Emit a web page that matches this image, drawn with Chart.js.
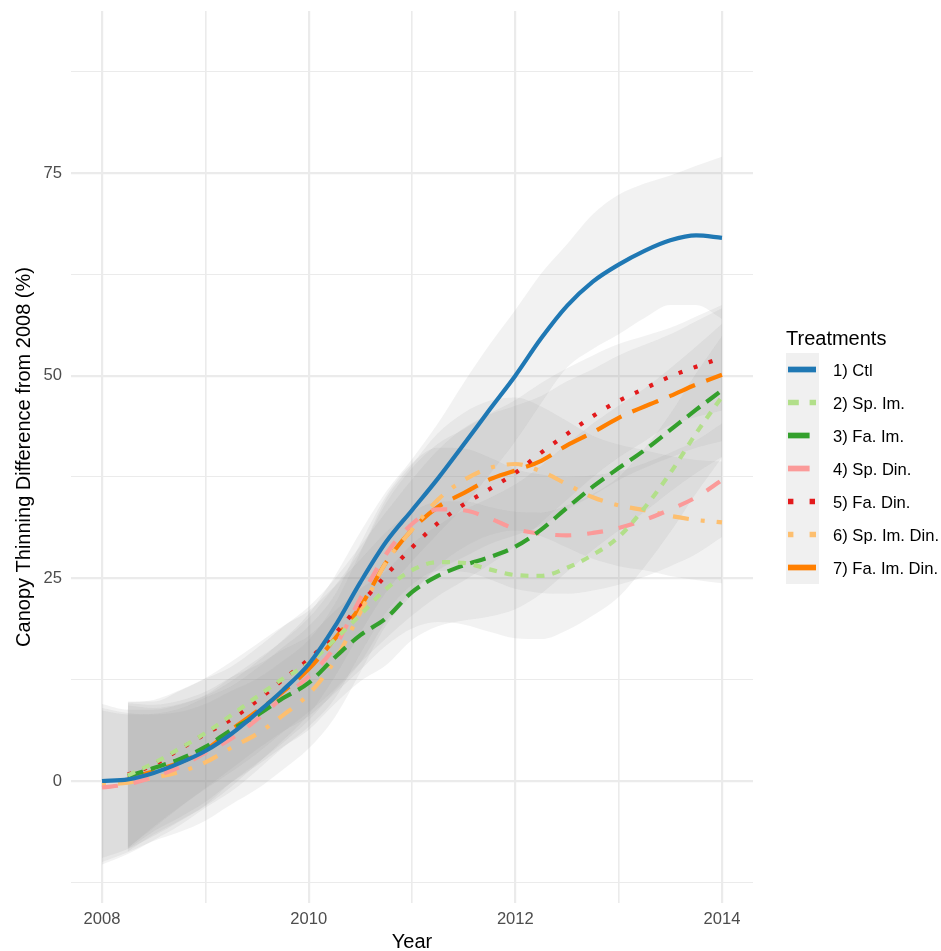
<!DOCTYPE html>
<html>
<head>
<meta charset="utf-8">
<script src="https://cdn.jsdelivr.net/npm/chart.js@4.4.1/dist/chart.umd.min.js"></script>
<style>
  html, body { margin: 0; padding: 0; background: #fff; }
  #wrap { position: relative; width: 941px; height: 951px; overflow: hidden; }
  #legend { position: absolute; left: 0; top: 0; font-family: "Liberation Sans", Arial, Helvetica, sans-serif; color: #000; }
  #legend .ltitle { position: absolute; left: 786px; top: 328px; font-size: 20px; line-height: 20px; white-space: nowrap; }
  #legend .lab { position: absolute; left: 833px; font-size: 16.6px; line-height: 20px; white-space: nowrap; }
  #legend svg { position: absolute; left: 786px; top: 353px; }
</style>
</head>
<body>
<div id="wrap">
  <canvas id="myChart" width="941" height="951"></canvas>
  <div id="legend"></div>
</div>
<script>
// x positions of the smoothed curves (every quarter year)
const years = [2008, 2008.25, 2008.5, 2008.75, 2009, 2009.25, 2009.5, 2009.75, 2010, 2010.25, 2010.5, 2010.75,
  2011, 2011.25, 2011.5, 2011.75, 2012, 2012.25, 2012.5, 2012.75, 2013, 2013.25, 2013.5, 2013.75, 2014];
const xTicks = [2008, 2009, 2010, 2011, 2012, 2013, 2014];
const yTicks = [-12.5, 0, 12.5, 25, 37.5, 50, 62.5, 75, 87.5];
const treatments = ["1) Ctl", "2) Sp. Im.", "3) Fa. Im.", "4) Sp. Din.", "5) Fa. Din.", "6) Sp. Im. Din.", "7) Fa. Im. Din."];

// smoothed means, canopy thinning difference from 2008 (%); null = no curve yet
const ctl = [0, 0.2, 1.0, 2.2, 3.7, 5.8, 8.4, 11.2, 14.4, 19.0, 24.5, 29.5, 33.4, 37.3, 41.5, 45.8, 50.0, 54.6, 58.6, 61.6, 63.7, 65.4, 66.7, 67.3, 67.0];
const spIm = [null, 0.7, 2.2, 4.0, 5.9, 8.1, 10.4, 12.6, 14.5, 17.4, 20.5, 23.7, 26.0, 27.0, 26.9, 26.1, 25.4, 25.3, 26.3, 27.9, 30.1, 33.7, 38.0, 42.9, 47.4];
const faIm = [null, 0.6, 1.6, 2.7, 4.2, 6.3, 8.1, 10.2, 12.1, 15.2, 18.0, 20.1, 23.3, 25.3, 26.6, 27.6, 28.9, 31.0, 33.7, 36.3, 38.6, 40.8, 43.3, 45.8, 48.2];
const spDin = [-0.8, -0.4, 0.5, 1.7, 3.5, 5.2, 7.6, 10.3, 12.9, 16.5, 22.5, 28.0, 31.7, 33.5, 33.4, 32.4, 31.1, 30.5, 30.3, 30.6, 31.2, 32.2, 33.5, 35.0, 37.1];
const faDin = [null, 0.8, 2.0, 3.9, 5.8, 7.6, 9.9, 12.5, 15.0, 18.1, 21.8, 25.4, 28.8, 31.8, 34.1, 36.0, 38.0, 40.5, 42.8, 45.0, 46.9, 48.4, 49.9, 51.1, 52.2];
const spImDin = [-0.5, -0.2, 0.4, 1.1, 2.3, 4.1, 5.8, 8.1, 10.7, 14.8, 20.8, 27.0, 31.0, 34.7, 37.1, 38.6, 39.1, 38.2, 36.6, 35.0, 34.0, 33.4, 32.7, 32.2, 31.9];
const faImDin = [null, 0.3, 1.2, 2.3, 3.8, 6.3, 8.6, 11.0, 13.8, 17.5, 21.5, 27.0, 31.0, 33.8, 35.5, 37.2, 38.3, 39.5, 41.4, 43.0, 44.8, 46.2, 47.5, 48.9, 50.1];

// half width of each grey confidence ribbon
const ctlBand = [9.5, 8.6, 7.8, 7.2, 6.8, 6.5, 6.3, 6.2, 6.2, 6.2, 6.2, 6.2, 6.3, 6.8, 7.6, 8.0, 8.1, 8.0, 7.6, 8.3, 8.6, 8.3, 8.0, 8.6, 10.0];
const spImBand = [null, 9.0, 7.8, 7.2, 6.8, 6.6, 6.5, 6.5, 6.5, 6.6, 6.8, 7.0, 7.2, 7.4, 7.6, 7.7, 7.8, 7.8, 7.7, 7.5, 7.4, 7.3, 7.3, 7.4, 7.5];
const faImBand = [null, 9.0, 7.8, 7.2, 6.8, 6.5, 6.2, 6.0, 5.8, 5.7, 5.7, 5.8, 5.9, 6.2, 6.8, 7.3, 7.7, 7.9, 7.9, 7.8, 7.7, 7.6, 7.6, 7.8, 8.2];
const spDinBand = [9.5, 8.6, 7.8, 7.2, 6.8, 6.5, 6.3, 6.2, 6.2, 6.4, 6.8, 7.2, 7.5, 7.6, 7.6, 7.5, 7.4, 7.3, 7.2, 7.1, 7.0, 7.0, 7.0, 7.0, 7.0];
const faDinBand = [null, 9.0, 7.8, 7.2, 6.8, 6.5, 6.5, 6.5, 6.5, 6.8, 7.2, 7.8, 8.4, 9.0, 9.4, 9.3, 9.0, 8.6, 8.1, 7.5, 7.0, 6.5, 6.0, 6.2, 6.5];
const spImDinBand = [9.5, 8.6, 7.8, 7.4, 7.2, 7.0, 6.8, 6.7, 6.7, 7.0, 7.4, 7.8, 8.0, 8.2, 8.3, 8.3, 8.2, 8.0, 7.8, 7.6, 7.5, 7.4, 7.4, 7.4, 7.5];
const faImDinBand = [null, 9.0, 7.8, 7.2, 6.8, 6.5, 6.4, 6.3, 6.3, 6.5, 6.9, 7.3, 7.6, 7.8, 7.9, 8.0, 8.0, 8.0, 7.9, 7.8, 7.7, 7.6, 7.6, 7.8, 8.2];

// line colour and ggplot-style dash pattern (in line-width units)
const series = [
  { mean: ctl, band: ctlBand, color: "#1f78b4", dash: [] },
  { mean: spIm, band: spImBand, color: "#b2df8a", dash: [2, 2] },
  { mean: faIm, band: faImBand, color: "#33a02c", dash: [4, 2] },
  { mean: spDin, band: spDinBand, color: "#fb9a99", dash: [4, 4] },
  { mean: faDin, band: faDinBand, color: "#e31a1c", dash: [1, 3] },
  { mean: spImDin, band: spImDinBand, color: "#fdbf6f", dash: [1, 3, 4, 3] },
  { mean: faImDin, band: faImDinBand, color: "#ff7f00", dash: [7, 3] },
];

const FONT = '"Liberation Sans", Arial, Helvetica, sans-serif';
const ribbonFill = "rgba(153, 153, 153, 0.13)";
const lineW = 4.2, unit = 4;

function edge(s, sign) {
  return years.map((x, i) => ({ x: x, y: s.mean[i] === null ? null : s.mean[i] + sign * s.band[i] }));
}

// all grey ribbons first, then the lines (Ctl drawn last, on top)
const datasets = [];
series.forEach((s, k) => {
  datasets.push({
    label: treatments[k] + " hi", data: edge(s, 1),
    borderWidth: 0, pointRadius: 0, fill: "+1", backgroundColor: ribbonFill,
  });
  datasets.push({
    label: treatments[k] + " lo", data: edge(s, -1),
    borderWidth: 0, pointRadius: 0, fill: false,
  });
});
series.slice().reverse().forEach((s) => {
  const k = series.indexOf(s);
  datasets.push({
    label: treatments[k],
    data: years.map((x, i) => ({ x: x, y: s.mean[i] })),
    borderColor: s.color, borderWidth: lineW, borderDash: s.dash.map(d => d * unit),
    borderCapStyle: "butt", pointRadius: 0, fill: false,
  });
});
datasets.forEach((d, i) => {
  d.order = -i;
  d.cubicInterpolationMode = "monotone";
});

const config = {
  type: "line",
  data: { datasets: datasets },
  options: {
    responsive: false,
    animation: false,
    devicePixelRatio: 1,
    layout: { padding: { top: 11, right: 188, left: 0, bottom: 0 } },
    plugins: { legend: { display: false }, tooltip: { enabled: false } },
    scales: {
      x: {
        type: "linear",
        min: 2007.7,
        max: 2014.3,
        afterBuildTicks: (scale) => { scale.ticks = xTicks.map(v => ({ value: v })); },
        afterFit: (scale) => {
          scale.height = 48;
          scale.paddingLeft = 0;
          scale.paddingRight = 0;
        },
        border: { display: false },
        grid: {
          color: "#ebebeb",
          drawTicks: false,
          lineWidth: (c) => (c.tick && c.tick.value % 2 === 0 ? 2.2 : 1.6),
        },
        ticks: {
          autoSkip: false, maxRotation: 0, padding: 6, color: "#4d4d4d",
          font: { family: FONT, size: 16.6 },
          callback: (v) => (v % 2 === 0 ? String(v) : ""),
        },
        title: {
          display: true, text: "Year", color: "#000",
          font: { family: FONT, size: 20, lineHeight: 0.8 },
          padding: { top: 0, bottom: 1 },
        },
      },
      y: {
        type: "linear",
        min: -15.05,
        max: 94.98,
        afterBuildTicks: (scale) => { scale.ticks = yTicks.map(v => ({ value: v })); },
        afterFit: (scale) => {
          scale.width = 71;
          scale.paddingTop = 0;
          scale.paddingBottom = 0;
        },
        border: { display: false },
        grid: {
          color: "#ebebeb",
          drawTicks: false,
          lineWidth: (c) => (c.tick && c.tick.value % 25 === 0 ? 2.2 : 1.1),
        },
        ticks: {
          autoSkip: false, padding: 9, color: "#4d4d4d",
          font: { family: FONT, size: 16.6 },
          callback: (v) => (v % 25 === 0 ? String(v) : ""),
        },
        title: {
          display: true, text: "Canopy Thinning Difference from 2008 (%)", color: "#000",
          font: { family: FONT, size: 20, lineHeight: 1.2 },
          padding: { top: 12.8, bottom: 0 },
        },
      },
    },
  },
};

const myChart = new Chart(document.getElementById("myChart"), config);

// legend: grey keys with line samples, as ggplot draws them
const legend = document.getElementById("legend");
const keyH = 33, keyW = 33, lw = 5.7, lunit = 5.4;
let svg = '<svg width="' + keyW + '" height="' + keyH * series.length + '" xmlns="http://www.w3.org/2000/svg">';
svg += '<rect x="0" y="0" width="' + keyW + '" height="' + keyH * series.length + '" fill="#f0f0f0"/>';
series.forEach((s, k) => {
  const cy = keyH * k + keyH / 2;
  const dash = s.dash.length ? ' stroke-dasharray="' + s.dash.map(d => d * lunit).join(" ") + '"' : "";
  svg += '<line x1="2" x2="30" y1="' + cy + '" y2="' + cy + '" stroke="' + s.color + '" stroke-width="' + lw + '"' + dash + '/>';
});
svg += "</svg>";
let html = '<div class="ltitle">Treatments</div>' + svg;
treatments.forEach((t, k) => {
  const cy = 353 + keyH * k + keyH / 2 + 1;
  html += '<div class="lab" style="top:' + (cy - 9.8) + 'px">' + t + "</div>";
});
legend.innerHTML = html;
</script>
</body>
</html>
